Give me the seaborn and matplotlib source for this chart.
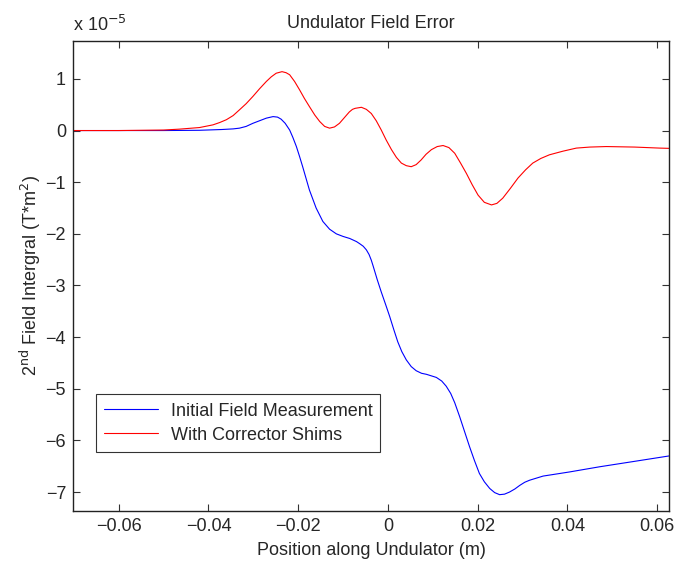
import numpy as np
import pandas as pd
import matplotlib
matplotlib.use("Agg")
import matplotlib.pyplot as plt
import seaborn as sns
from matplotlib.ticker import FixedLocator, FuncFormatter
from matplotlib.lines import Line2D

# ---- data (y in units of 1e-5 T*m^2) ----
x_initial = [-0.0702, -0.060, -0.050, -0.042, -0.037, -0.0345, -0.0331, -0.0316, -0.0301, -0.0286,
             -0.0271, -0.0256, -0.0246, -0.0238, -0.0229, -0.0219, -0.0212, -0.0204, -0.0197,
             -0.0190, -0.0175, -0.0160, -0.0145, -0.0130, -0.0115, -0.0100,
             -0.0085, -0.0070, -0.0063, -0.0055, -0.0048, -0.0042, -0.0037, -0.0033, -0.0024,
             -0.0015, -0.0005, 0.0004, 0.0013, 0.0022, 0.0031, 0.0041, 0.0052, 0.0063, 0.0075,
             0.0086, 0.0097, 0.0108, 0.0120, 0.0130, 0.0140, 0.0149, 0.0160, 0.0171, 0.0182,
             0.0193, 0.0204, 0.0215, 0.0227, 0.0238, 0.0249, 0.0260, 0.0271, 0.0283, 0.0294,
             0.0305, 0.0316, 0.0346, 0.0383, 0.0405, 0.0472, 0.0546, 0.0627]
y_initial = [0.0, 0.0, 0.0, 0.005, 0.02, 0.032, 0.046, 0.08, 0.14, 0.19,
             0.24, 0.27, 0.26, 0.22, 0.14, 0.01, -0.13, -0.31, -0.50,
             -0.70, -1.15, -1.50, -1.76, -1.91, -2.00, -2.05,
             -2.09, -2.15, -2.19, -2.24, -2.31, -2.40, -2.51, -2.62, -2.88,
             -3.12, -3.37, -3.60, -3.85, -4.09, -4.28, -4.44, -4.57, -4.65, -4.70,
             -4.72, -4.75, -4.78, -4.85, -4.95, -5.09, -5.27, -5.54, -5.83, -6.12,
             -6.39, -6.64, -6.80, -6.93, -7.01, -7.05, -7.04, -7.00, -6.94, -6.87,
             -6.81, -6.77, -6.69, -6.64, -6.61, -6.51, -6.41, -6.30]

x_shims = [-0.0702, -0.060, -0.050, -0.0465, -0.0420, -0.0390, -0.0375, -0.0360, -0.0345, -0.0331,
           -0.0316, -0.0301, -0.0286, -0.0271, -0.0260, -0.0249, -0.0236, -0.0227, -0.0219,
           -0.0208, -0.0197, -0.0186, -0.0175, -0.0163, -0.0152, -0.0141, -0.0130, -0.0119,
           -0.0108, -0.0097, -0.0086, -0.0079, -0.0073, -0.0059, -0.0048, -0.0037, -0.0026,
           -0.0015, -0.0004, 0.0008, 0.0019, 0.0030, 0.0041, 0.0052, 0.0063, 0.0074, 0.0085,
           0.0097, 0.0110, 0.0123, 0.0136, 0.0149, 0.0162, 0.0175, 0.0188, 0.0201, 0.0215,
           0.0231, 0.0243, 0.0256, 0.0273, 0.0290, 0.0307, 0.0323, 0.0341, 0.036, 0.039,
           0.042, 0.045, 0.0487, 0.055, 0.0606, 0.0627]
y_shims = [0.0, 0.0, 0.01, 0.027, 0.058, 0.11, 0.155, 0.21, 0.29, 0.40,
           0.52, 0.66, 0.81, 0.95, 1.04, 1.11, 1.14, 1.12, 1.08,
           0.95, 0.79, 0.62, 0.465, 0.30, 0.175, 0.08, 0.046, 0.07,
           0.14, 0.25, 0.36, 0.41, 0.43, 0.45, 0.41, 0.33, 0.19,
           0.014, -0.18, -0.37, -0.52, -0.63, -0.68, -0.70, -0.66, -0.57, -0.46,
           -0.37, -0.31, -0.29, -0.33, -0.44, -0.63, -0.83, -1.05, -1.25, -1.39,
           -1.44, -1.41, -1.31, -1.12, -0.92, -0.76, -0.63, -0.54, -0.47, -0.40,
           -0.34, -0.32, -0.31, -0.32, -0.34, -0.345]

labels = ["Initial Field Measurement", "With Corrector Shims"]
x_ticks = [-0.06, -0.04, -0.02, 0.0, 0.02, 0.04, 0.06]
y_ticks = [-7, -6, -5, -4, -3, -2, -1, 0, 1]

df = pd.concat([
    pd.DataFrame({"x": x_initial, "y": y_initial, "series": labels[0]}),
    pd.DataFrame({"x": x_shims, "y": y_shims, "series": labels[1]}),
], ignore_index=True)

sns.set_style("ticks")
plt.rcParams["font.family"] = ["Liberation Sans", "DejaVu Sans"]
plt.rcParams["xtick.direction"] = "in"
plt.rcParams["ytick.direction"] = "in"

FS = 13

fig = plt.figure(figsize=(6.79, 5.61), dpi=100)
ax = fig.add_axes([0.1075, 0.0897, 0.878, 0.8378])

sns.lineplot(data=df, x="x", y="y", hue="series", sort=False, estimator=None,
             palette={labels[0]: "#0000ff", labels[1]: "#ff0000"},
             linewidth=0.8, ax=ax, legend=False)

ax.set_xlim(-0.0702, 0.0627)
ax.set_ylim(-7.36, 1.74)

ax.xaxis.set_major_locator(FixedLocator(x_ticks))
ax.yaxis.set_major_locator(FixedLocator(y_ticks))

def fx(v, pos):
    if abs(v) < 1e-12:
        return "0"
    return f"{v:.2f}".replace("-", "\u2212")

def fy(v, pos):
    return f"{int(round(v))}".replace("-", "\u2212")

ax.xaxis.set_major_formatter(FuncFormatter(fx))
ax.yaxis.set_major_formatter(FuncFormatter(fy))
ax.tick_params(axis="both", which="major", labelsize=FS, length=5, width=0.8,
               color="#333333", top=True, right=True, pad=5)

for s in ax.spines.values():
    s.set_visible(True)
    s.set_linewidth(1.0)
    s.set_color("#222222")

ax.set_title("Undulator Field Error", fontsize=FS, pad=9)
ax.set_xlabel("Position along Undulator (m)", fontsize=FS, labelpad=5)
ax.set_ylabel("2$^{\\mathrm{nd}}$ Field Intergral (T*m$^{\\mathrm{2}}$)", fontsize=FS, labelpad=2)
ax.text(0.0, 1.012, "x 10$^{\\mathrm{\u22125}}$", transform=ax.transAxes, fontsize=FS,
        ha="left", va="bottom")

handles = [Line2D([], [], color="#0000ff", lw=0.8), Line2D([], [], color="#ff0000", lw=0.8)]
leg = ax.legend(handles, labels, loc="lower left", bbox_to_anchor=(0.038, 0.125),
                fontsize=FS, frameon=True, fancybox=False, edgecolor="black",
                handlelength=3.0, borderpad=0.45, labelspacing=0.4, handletextpad=0.7,
                borderaxespad=0.0)
leg.get_frame().set_linewidth(0.8)

fig.savefig("out.png", dpi=100)
